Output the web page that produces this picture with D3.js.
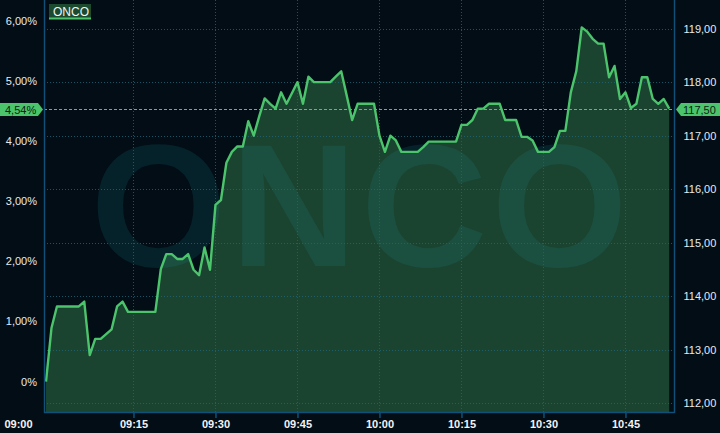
<!DOCTYPE html>
<html>
<head>
<meta charset="utf-8">
<script src="https://cdn.jsdelivr.net/npm/d3@7"></script>
<style>
  html, body { margin: 0; padding: 0; background: #020d16; }
  svg { display: block; }
  text { font-family: "Liberation Sans", Arial, sans-serif; }
</style>
</head>
<body>
<svg id="chart" width="720" height="433"></svg>
<script>
// series: % change, one point per minute starting 08:59
var symbol = "ONCO";
var startTime = "08:59";
var basePrice = 112.40;
var pct = [
  0.00, 0.89, 1.25, 1.25, 1.25, 1.25, 1.25, 1.33, 0.44, 0.71,
  0.71, 0.79, 0.87, 1.25, 1.33, 1.16, 1.16, 1.16, 1.16, 1.16,
  1.16, 1.87, 2.12, 2.12, 2.04, 2.04, 2.12, 1.86, 1.77, 2.23,
  1.86, 2.94, 3.02, 3.64, 3.82, 3.91, 3.91, 4.33, 4.09, 4.41,
  4.71, 4.62, 4.54, 4.81, 4.62, 4.80, 4.98, 4.62, 5.07, 4.98,
  4.98, 4.98, 4.98, 5.07, 5.16, 4.76, 4.35, 4.62, 4.62, 4.62,
  4.62, 4.09, 3.82, 4.09, 4.01, 3.82, 3.82, 3.82, 3.82, 3.90,
  3.99, 3.99, 3.99, 3.99, 3.99, 3.99, 4.27, 4.27, 4.35, 4.54,
  4.54, 4.62, 4.62, 4.62, 4.35, 4.35, 4.35, 4.07, 4.07, 4.01,
  3.82, 3.82, 3.82, 3.90, 4.17, 4.17, 4.81, 5.16, 5.89, 5.82,
  5.70, 5.62, 5.62, 5.06, 5.25, 4.70, 4.81, 4.55, 4.62, 5.06,
  5.06, 4.70, 4.62, 4.70, 4.54
];
var pctTicks = [0, 1, 2, 3, 4, 5, 6];
var priceTicks = [112, 113, 114, 115, 116, 117, 118, 119];
var timeTicks = ["09:00", "09:15", "09:30", "09:45", "10:00", "10:15", "10:30", "10:45"];

var parseTime = d3.timeParse("%H:%M");
var t0 = parseTime(startTime);
var data = pct.map(function (v, i) {
  return { t: d3.timeMinute.offset(t0, i), p: v };
});

var loc = d3.formatLocale({ decimal: ",", thousands: ".", grouping: [3], currency: ["", ""] });
var f2 = loc.format(".2f");

var W = 720, H = 433;
var left = 44, right = 674.5, bottom = 412;

var svg = d3.select("#chart");

var x = d3.scaleTime()
  .domain([t0, data[data.length - 1].t])
  .range([46, 669.2]);

var yPrice = d3.scaleLinear().domain([112, 119]).range([403, 28.5]);
function priceOf(p) { return basePrice * (1 + p / 100); }
var y = d3.scaleLinear()
  .domain([(112 / basePrice - 1) * 100, (119 / basePrice - 1) * 100])
  .range([403, 28.5]);

// area + line
var area = d3.area()
  .x(function (d) { return x(d.t); })
  .y0(bottom)
  .y1(function (d) { return y(d.p); });
var line = d3.line()
  .x(function (d) { return x(d.t); })
  .y(function (d) { return y(d.p); });

svg.append("rect").attr("width", W).attr("height", H).attr("fill", "#020d16");

svg.append("path").datum(data)
  .attr("d", area)
  .attr("fill", "#1b4430");

// watermark
svg.append("text")
  .attr("x", 361).attr("y", 266)
  .attr("text-anchor", "middle")
  .style("font-size", "175px")
  .style("font-weight", "bold")
  .style("letter-spacing", "4px")
  .attr("fill", "#1f9aa8")
  .attr("fill-opacity", 0.14)
  .text(symbol);

// grid
var grid = svg.append("g")
  .attr("stroke", "#1f6678")
  .attr("stroke-opacity", 0.8)
  .attr("stroke-dasharray", "1,2");
grid.selectAll("line.h").data(priceTicks).enter().append("line")
  .attr("x1", left).attr("x2", right)
  .attr("y1", function (d) { return Math.round(yPrice(d)) + 0.5; })
  .attr("y2", function (d) { return Math.round(yPrice(d)) + 0.5; });
grid.selectAll("line.v").data(timeTicks.slice(1)).enter().append("line")
  .attr("y1", 0).attr("y2", bottom)
  .attr("x1", function (d) { return Math.round(x(parseTime(d))) + 0.5; })
  .attr("x2", function (d) { return Math.round(x(parseTime(d))) + 0.5; });

// line
svg.append("path").datum(data)
  .attr("d", line)
  .attr("fill", "none")
  .attr("stroke", "#4cc46c")
  .attr("stroke-width", 2.4)
  .attr("stroke-linejoin", "round");

// last value
var last = data[data.length - 1];
var yl = Math.round(y(last.p)) + 0.5;
svg.append("line")
  .attr("x1", left).attr("x2", right)
  .attr("y1", yl).attr("y2", yl)
  .attr("stroke", "#4cc46c")
  .attr("stroke-dasharray", "3,2");

// frame
var axisCol = "#0f5179";
svg.append("line").attr("x1", left + 0.5).attr("x2", left + 0.5).attr("y1", 0).attr("y2", bottom + 1)
  .attr("stroke", axisCol).attr("stroke-width", 1.5);
svg.append("line").attr("x1", right).attr("x2", right).attr("y1", 0).attr("y2", bottom + 1)
  .attr("stroke", axisCol).attr("stroke-width", 1.5);

// bottom axis
var xAxis = d3.axisBottom(x)
  .tickValues(timeTicks.map(parseTime))
  .tickSize(6)
  .tickFormat(d3.timeFormat("%H:%M"));
var gx = svg.append("g").attr("transform", "translate(0," + bottom + ")").call(xAxis);
gx.select(".domain").attr("d", "M" + left + ",0.5H" + right).attr("stroke", axisCol).attr("stroke-width", 1.5);
gx.selectAll(".tick line").attr("stroke", axisCol).attr("stroke-width", 1.5);
gx.selectAll(".tick text")
  .attr("fill", "#f2f4f6").attr("y", 8.5)
  .style("font-size", "11px").style("font-weight", "bold")
  .attr("font-family", null);
// first label sits in the corner, left of the plot
var first = gx.selectAll(".tick").filter(function (d, i) { return i === 0; });
first.select("line").remove();
first.select("text").attr("x", 18 - x(parseTime(timeTicks[0])));

// left axis (%)
var gl = svg.append("g").attr("transform", "translate(" + left + ",0)")
  .call(d3.axisLeft(y).tickValues(pctTicks).tickSize(0).tickPadding(7)
    .tickFormat(function (d) { return d === 0 ? "0%" : f2(d) + "%"; }));
gl.select(".domain").remove();
gl.selectAll(".tick text").attr("fill", "#e6ebf0").style("font-size", "11px").attr("font-family", null);

// right axis (price)
var gr = svg.append("g").attr("transform", "translate(" + right + ",0)")
  .call(d3.axisRight(yPrice).tickValues(priceTicks).tickSize(0).tickPadding(9)
    .tickFormat(f2));
gr.select(".domain").remove();
gr.selectAll(".tick text").attr("fill", "#e6ebf0").style("font-size", "11px").attr("font-family", null);

// last value tags
var tagCol = "#4cc46c";
svg.append("path")
  .attr("d", "M0," + (yl - 6.5) + "H38L43," + yl + "L38," + (yl + 6.5) + "H0Z")
  .attr("fill", tagCol);
svg.append("text").attr("x", 5).attr("y", yl + 4)
  .attr("fill", "#0a2414").style("font-size", "11px")
  .text(f2(last.p) + "%");
svg.append("path")
  .attr("d", "M676," + yl + "L681," + (yl - 6.5) + "H720V" + (yl + 6.5) + "H681Z")
  .attr("fill", tagCol);
svg.append("text").attr("x", 683).attr("y", yl + 4)
  .attr("fill", "#0a2414").style("font-size", "11px")
  .text(f2(priceOf(last.p)));

// legend
svg.append("rect").attr("x", 49).attr("y", 4).attr("width", 42).attr("height", 15).attr("fill", "#1b4a2e");
svg.append("rect").attr("x", 49).attr("y", 17.5).attr("width", 42).attr("height", 2).attr("fill", tagCol);
svg.append("text").attr("x", 53).attr("y", 15.5)
  .attr("fill", "#f2f4f6").style("font-size", "12px")
  .text(symbol);
</script>
</body>
</html>
